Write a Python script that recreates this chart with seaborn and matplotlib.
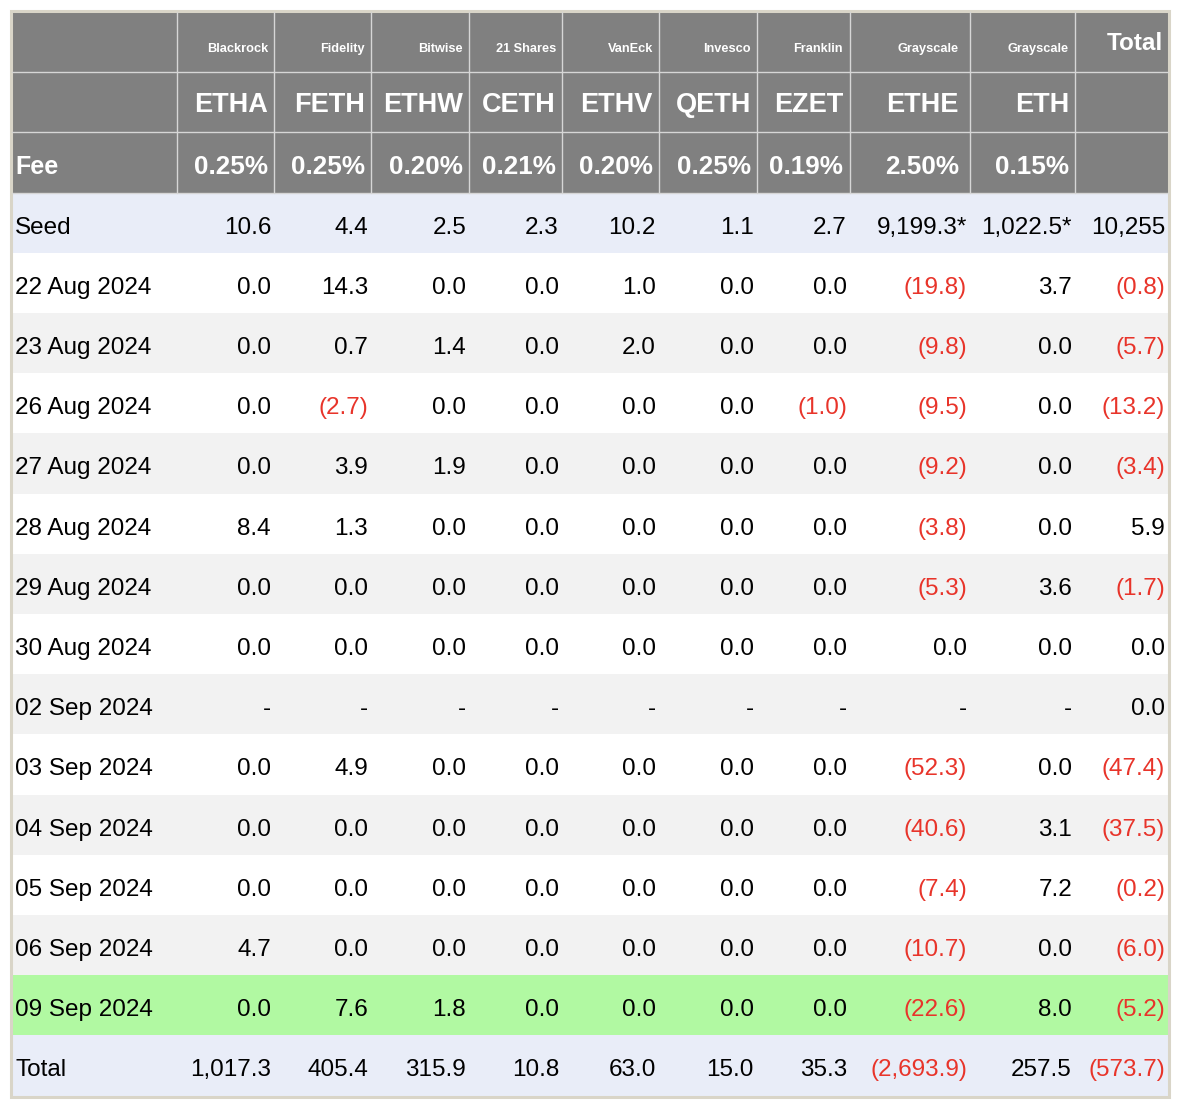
import seaborn as sns
import numpy as np
import matplotlib
import matplotlib.pyplot as plt
from matplotlib.patches import Rectangle

# ---- data ----
issuers = ["Blackrock", "Fidelity", "Bitwise", "21 Shares", "VanEck", "Invesco", "Franklin", "Grayscale", "Grayscale"]
tickers = ["ETHA", "FETH", "ETHW", "CETH", "ETHV", "QETH", "EZET", "ETHE", "ETH"]
fees = ["0.25%", "0.25%", "0.20%", "0.21%", "0.20%", "0.25%", "0.19%", "2.50%", "0.15%"]

seed = [10.6, 4.4, 2.5, 2.3, 10.2, 1.1, 2.7, 9199.3, 1022.5, 10255]
seed_star = [False, False, False, False, False, False, False, True, True, False]

dates = ["22 Aug 2024", "23 Aug 2024", "26 Aug 2024", "27 Aug 2024", "28 Aug 2024",
         "29 Aug 2024", "30 Aug 2024", "02 Sep 2024", "03 Sep 2024", "04 Sep 2024",
         "05 Sep 2024", "06 Sep 2024", "09 Sep 2024"]
etha = [0.0, 0.0, 0.0, 0.0, 8.4, 0.0, 0.0, None, 0.0, 0.0, 0.0, 4.7, 0.0]
feth = [14.3, 0.7, -2.7, 3.9, 1.3, 0.0, 0.0, None, 4.9, 0.0, 0.0, 0.0, 7.6]
ethw = [0.0, 1.4, 0.0, 1.9, 0.0, 0.0, 0.0, None, 0.0, 0.0, 0.0, 0.0, 1.8]
ceth = [0.0, 0.0, 0.0, 0.0, 0.0, 0.0, 0.0, None, 0.0, 0.0, 0.0, 0.0, 0.0]
ethv = [1.0, 2.0, 0.0, 0.0, 0.0, 0.0, 0.0, None, 0.0, 0.0, 0.0, 0.0, 0.0]
qeth = [0.0, 0.0, 0.0, 0.0, 0.0, 0.0, 0.0, None, 0.0, 0.0, 0.0, 0.0, 0.0]
ezet = [0.0, 0.0, -1.0, 0.0, 0.0, 0.0, 0.0, None, 0.0, 0.0, 0.0, 0.0, 0.0]
ethe = [-19.8, -9.8, -9.5, -9.2, -3.8, -5.3, 0.0, None, -52.3, -40.6, -7.4, -10.7, -22.6]
eth = [3.7, 0.0, 0.0, 0.0, 0.0, 3.6, 0.0, None, 0.0, 3.1, 7.2, 0.0, 8.0]
total = [-0.8, -5.7, -13.2, -3.4, 5.9, -1.7, 0.0, 0.0, -47.4, -37.5, -0.2, -6.0, -5.2]

fund_totals = [1017.3, 405.4, 315.9, 10.8, 63.0, 15.0, 35.3, -2693.9, 257.5, -573.7]

highlight_date = "09 Sep 2024"

# ---- layout / style ----
col_edges = [12, 177, 274, 371, 469, 562, 659, 757, 850, 970, 1075, 1168]
head_pad = [6, 6, 6, 6, 6, 6, 7, 11, 6]
row_h = 60.2
top = 12
HEAD = "#808080"
BLUE = "#e9edf8"
GREY = "#f2f2f2"
GREEN = "#b1f9a2"
RED = "#e8342a"
LINE = "#d6d6d6"

sns.set_theme(style="white")
plt.rcParams['font.family'] = ['Liberation Sans', 'DejaVu Sans']

fig = plt.figure(figsize=(11.86, 11.10), dpi=100)
ax = fig.add_axes([0, 0, 1, 1])
ax.set_xlim(0, 1186)
ax.set_ylim(1110, 0)
ax.axis("off")


def fmt(v, star=False, dec=1):
    if v is None:
        return "-", "black"
    s = f"{abs(v):,.{dec}f}"
    if star:
        s += "*"
    if v < 0:
        return f"({s})", RED
    return s, "black"


x0, x1 = col_edges[0], col_edges[-1]

# header block
ax.add_patch(Rectangle((x0, top), x1 - x0, 3 * row_h, color=HEAD, lw=0))
for e in col_edges[1:-1]:
    ax.plot([e, e], [top, top + 3 * row_h], color=LINE, lw=1)
for k in (1, 2, 3):
    ax.plot([x0, x1], [top + k * row_h] * 2, color=LINE, lw=1)

for i in range(len(tickers)):
    xr = col_edges[i + 2] - head_pad[i]
    ax.text(xr, top + 40, issuers[i], ha="right", va="baseline",
            color="white", fontsize=9.2, fontweight="bold")
    ax.text(xr, top + row_h + 40, tickers[i], ha="right", va="baseline",
            color="white", fontsize=19.5, fontweight="bold")
    ax.text(xr, top + 2 * row_h + 42, fees[i], ha="right", va="baseline",
            color="white", fontsize=18.8, fontweight="bold")
ax.text(col_edges[-1] - 5, top + 38.5, "Total", ha="right", va="baseline",
        color="white", fontsize=17.5, fontweight="bold")
ax.text(col_edges[0] + 3, top + 2 * row_h + 42, "Fee", ha="left", va="baseline",
        color="white", fontsize=18, fontweight="bold")

# body rows
series = [etha, feth, ethw, ceth, ethv, qeth, ezet, ethe, eth, total]
rows = [("Seed", [fmt(v, s, 0 if j == 9 else 1) for j, (v, s) in enumerate(zip(seed, seed_star))], BLUE)]
for r, d in enumerate(dates):
    if d == highlight_date:
        bg = GREEN
    else:
        bg = "white" if r % 2 == 0 else GREY
    rows.append((d, [fmt(col[r]) for col in series], bg))
rows.append(("Total", [fmt(v) for v in fund_totals], BLUE))

for r, (label, cells, bg) in enumerate(rows):
    y = top + (3 + r) * row_h
    ax.add_patch(Rectangle((x0, y), x1 - x0, row_h, color=bg, lw=0))
    yb = y + 41
    ax.text(col_edges[0] + 3, yb, label, ha="left", va="baseline", color="black", fontsize=17.5)
    for j, (txt, c) in enumerate(cells):
        ax.text(col_edges[j + 2] - 3, yb, txt, ha="right", va="baseline", color=c, fontsize=17.5)

# outer frame
bottom = top + (3 + len(rows)) * row_h
ax.add_patch(Rectangle((x0 - 1, top - 1), x1 - x0 + 2, bottom - top + 2,
                       fill=False, edgecolor="#d9d5c8", lw=2.2))

plt.savefig("out.png", dpi=100)
